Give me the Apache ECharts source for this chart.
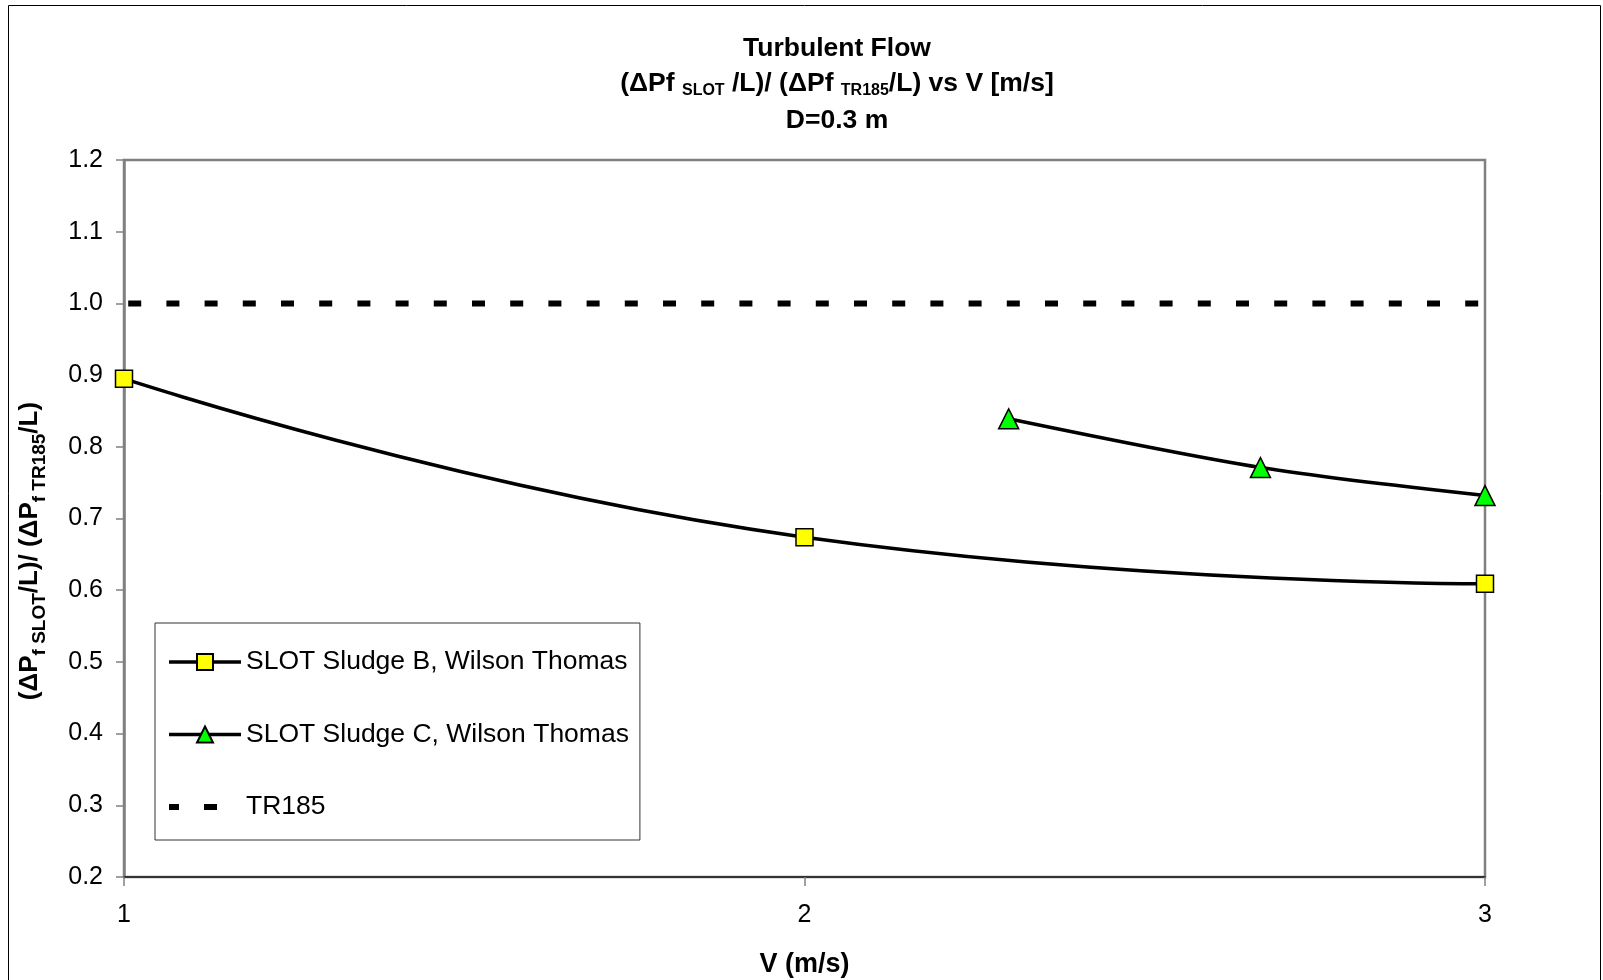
<!DOCTYPE html>
<html>
<head>
<meta charset="utf-8">
<script src="https://cdn.jsdelivr.net/npm/echarts@6/dist/echarts.min.js"></script>
<style>
  html, body { margin: 0; padding: 0; background: #fff; }
  #chart { width: 1603px; height: 980px; }
</style>
</head>
<body>
<div id="chart"></div>
<script>
const FONT = '"Liberation Sans", Arial, Helvetica, sans-serif';

// Velocity axis ticks (m/s) and pressure-gradient ratio axis bounds
const xTicks = [1, 2, 3];
const yMin = 0.2;
const yMax = 1.2;
const yStep = 0.1;

// Ratio of SLOT frictional pressure gradient to TR185 prediction
const seriesNames = ['SLOT Sludge B, Wilson Thomas', 'SLOT Sludge C, Wilson Thomas', 'TR185'];
const velB = [1, 2, 3];
const ratioB = [0.895, 0.674, 0.609];
const velC = [2.3, 2.67, 3];
const ratioC = [0.839, 0.771, 0.732];
const velRef = [1, 3];
const ratioRef = [1.0, 1.0];

const pairs = (xs, ys) => xs.map((x, i) => [x, ys[i]]);

const chart = echarts.init(document.getElementById('chart'), null, { renderer: 'canvas' });

const titleRich = {
  m: { fontFamily: FONT, fontSize: 26.5, fontWeight: 'bold', color: '#000', lineHeight: 30 },
  s: { fontFamily: FONT, fontSize: 16, fontWeight: 'bold', color: '#000', lineHeight: 21, verticalAlign: 'bottom' }
};
const yNameRich = {
  m: { fontFamily: FONT, fontSize: 26, fontWeight: 'bold', color: '#000', lineHeight: 38 },
  s: { fontFamily: FONT, fontSize: 19, fontWeight: 'bold', color: '#000', lineHeight: 22, verticalAlign: 'bottom' }
};

const option = {
  animation: false,
  backgroundColor: '#fff',
  textStyle: { fontFamily: FONT },
  graphic: [
    { type: 'rect', z: 0, silent: true,
      shape: { x: 8.5, y: 5.5, width: 1592, height: 1000 },
      style: { fill: null, stroke: '#000', lineWidth: 1 } },
    { type: 'text', x: 837, y: 49, silent: true,
      style: { text: 'Turbulent Flow', fontFamily: FONT, fontSize: 26.5, fontWeight: 'bold', fill: '#000', align: 'center', verticalAlign: 'middle' } },
    { type: 'text', x: 837, y: 84, silent: true,
      style: { text: '{m|(ΔPf }{s|SLOT}{m| /L)/ (ΔPf }{s|TR185}{m|/L) vs V [m/s]}', rich: titleRich, align: 'center', verticalAlign: 'middle' } },
    { type: 'text', x: 837, y: 121, silent: true,
      style: { text: 'D=0.3 m', fontFamily: FONT, fontSize: 26.5, fontWeight: 'bold', fill: '#000', align: 'center', verticalAlign: 'middle' } },
    { type: 'text', x: 30, y: 551, rotation: Math.PI / 2, silent: true,
      style: { text: '{m|(ΔP}{s|f SLOT}{m|/L)/ (ΔP}{s|f TR185}{m|/L)}', rich: yNameRich, align: 'center', verticalAlign: 'middle' } }
  ],
  grid: {
    left: 124, right: 118, top: 160, bottom: 103,
    outerBoundsMode: 'none',
    containLabel: false,
    show: true, borderColor: '#808080', borderWidth: 2.5, backgroundColor: 'transparent'
  },
  legend: {
    orient: 'vertical',
    left: 155, top: 623,
    padding: [24, 11, 18, 11],
    itemGap: 42.5,
    itemWidth: 72,
    itemHeight: 20,
    borderColor: '#333',
    borderWidth: 1,
    backgroundColor: '#fff',
    selectedMode: false,
    lineStyle: { width: 3.5 },
    textStyle: { fontFamily: FONT, fontSize: 26.5, color: '#000', lineHeight: 30 },
    data: [
      { name: seriesNames[0] },
      { name: seriesNames[1] },
      { name: seriesNames[2],
        itemStyle: { color: 'rgba(0,0,0,0)', borderWidth: 0 },
        lineStyle: { width: 6, type: [13, 25], dashOffset: 3, cap: 'butt' } }
    ]
  },
  xAxis: {
    type: 'value',
    min: xTicks[0], max: xTicks[xTicks.length - 1], interval: 1,
    name: 'V (m/s)',
    nameLocation: 'middle',
    nameGap: 74,
    nameTextStyle: { fontFamily: FONT, fontSize: 27, fontWeight: 'bold', color: '#000' },
    axisLine: { show: true, onZero: false, lineStyle: { color: '#333', width: 2 } },
    axisTick: { show: true, inside: false, length: 9, lineStyle: { color: '#808080', width: 1.5 } },
    axisLabel: { margin: 26, fontFamily: FONT, fontSize: 25, color: '#000', formatter: v => String(v) },
    splitLine: { show: false }
  },
  yAxis: {
    type: 'value',
    min: yMin, max: yMax, interval: yStep,
    axisLine: { show: true, onZero: false, lineStyle: { color: '#808080', width: 2.5 } },
    axisTick: { show: true, inside: false, length: 8, lineStyle: { color: '#808080', width: 1.5 } },
    axisLabel: { margin: 21, fontFamily: FONT, fontSize: 25, color: '#000', formatter: v => v.toFixed(1) },
    splitLine: { show: false }
  },
  series: [
    {
      name: seriesNames[0], type: 'line', data: pairs(velB, ratioB),
      smooth: 0.5, symbol: 'rect', symbolSize: 17, z: 4,
      lineStyle: { color: '#000', width: 3.5 },
      itemStyle: { color: '#ffff00', borderColor: '#000', borderWidth: 1.5 }
    },
    {
      name: seriesNames[1], type: 'line', data: pairs(velC, ratioC),
      smooth: 0.3, symbol: 'triangle', symbolSize: 20, z: 4,
      lineStyle: { color: '#000', width: 3.5 },
      itemStyle: { color: '#00ff00', borderColor: '#000', borderWidth: 1.5 }
    },
    {
      name: seriesNames[2], type: 'line', data: pairs(velRef, ratioRef),
      symbol: 'none', z: 3,
      lineStyle: { color: '#000', width: 6, type: [13, 25.2], dashOffset: 34, cap: 'butt' },
      itemStyle: { color: 'rgba(0,0,0,0)' }
    }
  ]
};

chart.setOption(option);
</script>
</body>
</html>
